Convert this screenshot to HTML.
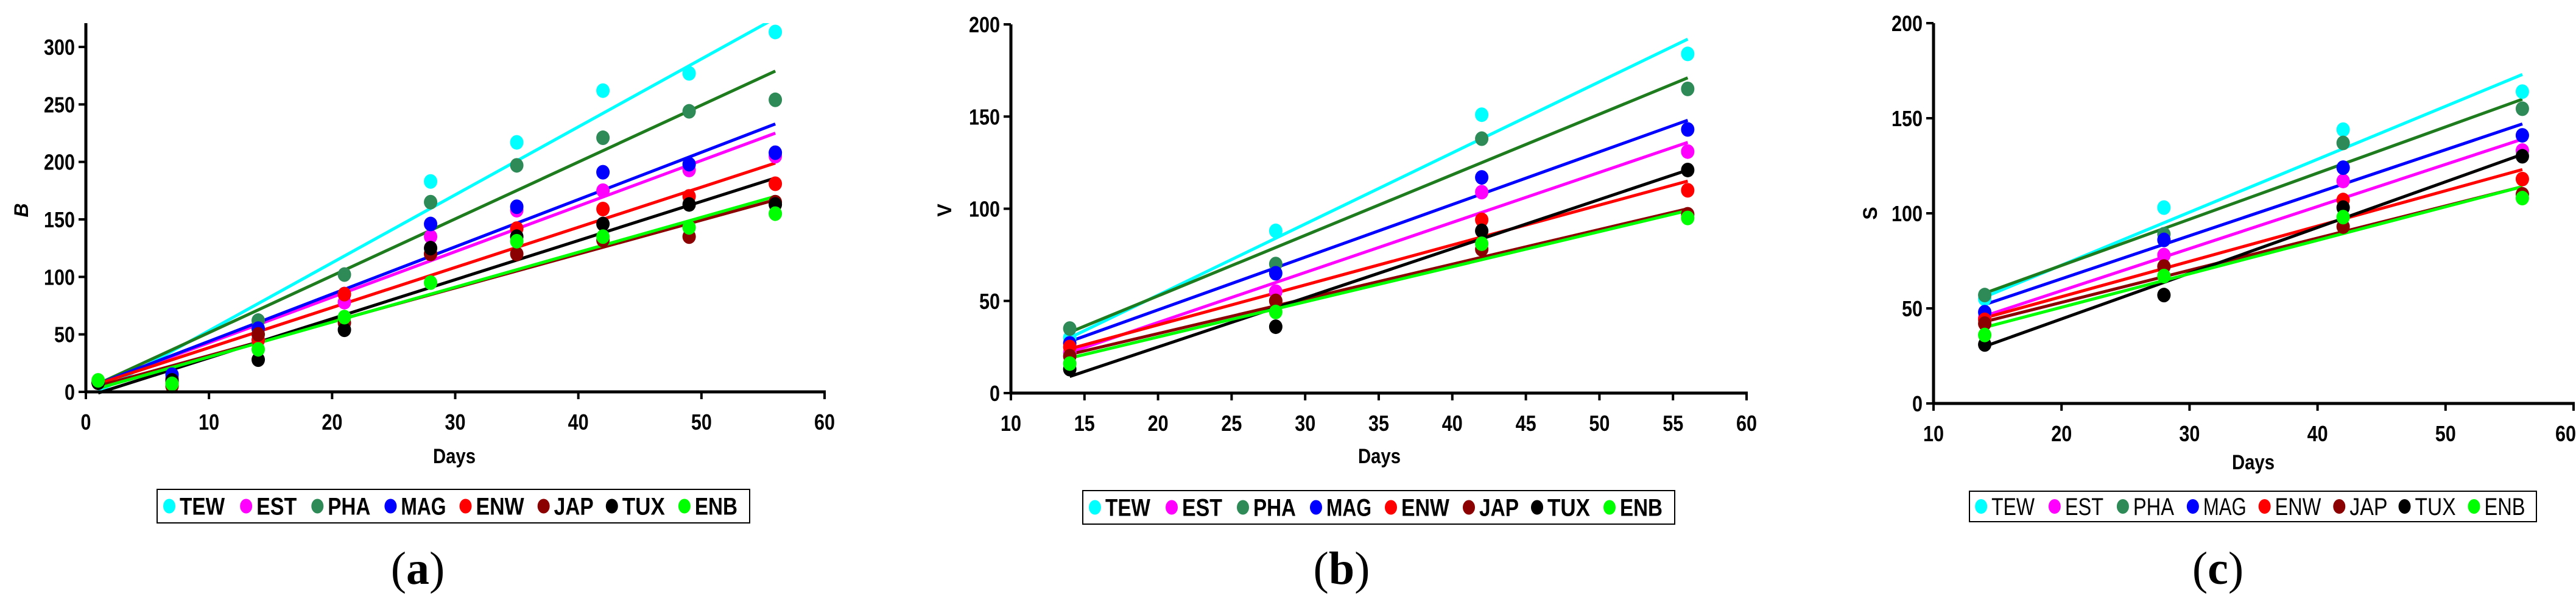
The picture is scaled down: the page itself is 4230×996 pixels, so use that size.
<!DOCTYPE html>
<html><head><meta charset="utf-8"><style>
html,body{margin:0;padding:0;background:#fff;}
svg{display:block;}
</style></head><body>
<svg id="fig" width="4230" height="996" viewBox="0 0 4230 996" xmlns="http://www.w3.org/2000/svg" font-family="Liberation Sans, sans-serif"></svg>
<script>
const seriesNames = ["TEW","EST","PHA","MAG","ENW","JAP","TUX","ENB"];
const dotColors = ["#00ffff","#ff00ff","#2e8b57","#0000ff","#ff0000","#8b0000","#000000","#00ff00"];
const lineColors = ["#00ffff","#ff00ff","#1e7b1e","#0000ff","#ff0000","#8b0000","#000000","#00ff00"];

// Panel (a) B
const daysA = [1,7,14,21,28,35,42,49,56];
const valsA_TEW = [8,12,55,85,183,217,262,277,313];
const valsA_EST = [8,12,45,78,135,158,175,193,205];
const valsA_PHA = [8,10,62,102,165,197,221,244,254];
const valsA_MAG = [8,15,55,85,146,161,191,198,208];
const valsA_ENW = [8,8,45,85,120,142,159,170,181];
const valsA_JAP = [8,5,50,60,120,120,132,135,165];
const valsA_TUX = [8,10,28,54,125,135,146,163,163];
const valsA_ENB = [10,7,37,65,95,131,135,143,155];
const fitA_start = [0,7,7,7,7,5,-1,3];
const fitA_end = [325,225,279,233,199,167,186,170];
const yTicksA = [0,50,100,150,200,250,300];
const xTicksA = [0,10,20,30,40,50,60];

// Panel (b) V
const daysB = [14,28,42,56];
const valsB_TEW = [30,88,151,184];
const valsB_EST = [22,55,109,131];
const valsB_PHA = [35,70,138,165];
const valsB_MAG = [27,65,117,143];
const valsB_ENW = [25,50,94,110];
const valsB_JAP = [20,50,78,97];
const valsB_TUX = [13,36,88,121];
const valsB_ENB = [16,44,81,95];
const fitB_start = [30,22,33,28,24,21,9,19];
const fitB_end = [192,136,171,148,115,100,121,99];
const yTicksB = [0,50,100,150,200];
const xTicksB = [10,15,20,25,30,35,40,45,50,55,60];

// Panel (c) S
const daysC = [14,28,42,56];
const valsC_TEW = [55,103,144,164];
const valsC_EST = [45,78,117,133];
const valsC_PHA = [57,89,137,155];
const valsC_MAG = [48,86,124,141];
const valsC_ENW = [44,72,107,118];
const valsC_JAP = [42,72,93,110];
const valsC_TUX = [31,57,103,130];
const valsC_ENB = [36,67,98,108];
const fitC_start = [56,46,58,52,45,43,30,40];
const fitC_end = [173,139,160,147,123,114,131,114];
const yTicksC = [0,50,100,150,200];
const xTicksC = [10,20,30,40,50,60];

const legendWidths = [74,66,70,74,79,65,70,70];

const NS="http://www.w3.org/2000/svg";
const svg=document.getElementById('fig');
function mk(tag,attrs,parent){const e=document.createElementNS(NS,tag);for(const k in attrs)e.setAttribute(k,attrs[k]);(parent||svg).appendChild(e);return e;}

function panel(p){
  const g=mk('g',{});
  
  
  const sx=v=>p.x0+(v-p.xmin)/(p.xmax-p.xmin)*(p.x1-p.x0);
  const sy=v=>p.y0-(v-p.ymin)/(p.ymax-p.ymin)*(p.y0-p.y1);
  const clip=mk('clipPath',{id:'clip-'+p.id},g);
  mk('rect',{x:p.x0,y:p.yTop,width:p.x1-p.x0+40,height:p.y0-p.yTop+30},clip);
  const plot=mk('g',{'clip-path':'url(#clip-'+p.id+')'},g);
  
  
  for(let i=0;i<8;i++){
    const d0=p.days[0], d1=p.days[p.days.length-1];
    const l=mk('line',{x1:sx(d0),y1:sy(p.fs[i]),x2:sx(d1),y2:sy(p.fe[i]),stroke:lineColors[i],'stroke-width':5},plot);
    
    
  }
  for(let i=0;i<8;i++){
    const vals=p.vals[i];
    for(let j=0;j<p.days.length;j++){
      const c=mk('ellipse',{cx:sx(p.days[j]),cy:sy(vals[j]),rx:11,ry:12,fill:dotColors[i]},plot);
      
      
    }
  }
  const ya=mk('line',{x1:p.x0,y1:p.yTop,x2:p.x0,y2:p.y0+2,stroke:'#000','stroke-width':5},g);
  
  
  const xa=mk('line',{x1:p.x0-2,y1:p.y0,x2:p.x1+2,y2:p.y0,stroke:'#000','stroke-width':5},g);
  
  
  p.yt.forEach(v=>{
    mk('line',{x1:p.x0-12,y1:sy(v),x2:p.x0,y2:sy(v),stroke:'#000','stroke-width':4},g);
    const s=String(v);
    const t=mk('text',{x:p.x0-18,y:sy(v)+13,'text-anchor':'end','font-size':36,'font-weight':'bold',textLength:s.length*17,lengthAdjust:'spacingAndGlyphs'},g);
    t.textContent=s;
    
    
  });
  p.xt.forEach((v,k)=>{
    mk('line',{x1:sx(v),y1:p.y0,x2:sx(v),y2:p.y0+12,stroke:'#000','stroke-width':4},g);
    const s=String(v);
    let anchor='middle', xx=sx(v);
    if(p.lastEnd && k===p.xt.length-1){anchor='end';xx=4230;}
    const t=mk('text',{x:xx,y:p.y0+62,'text-anchor':anchor,'font-size':36,'font-weight':'bold',textLength:s.length*17,lengthAdjust:'spacingAndGlyphs'},g);
    t.textContent=s;
    
    
  });
  const xt=mk('text',{x:p.daysX,y:p.daysY,'text-anchor':'middle','font-size':34,'font-weight':'bold',textLength:70,lengthAdjust:'spacingAndGlyphs'},g);
  xt.textContent='Days';
  
  
  const yt=mk('text',{x:0,y:0,'text-anchor':'middle','font-size':32,'font-weight':'bold','font-style':p.yItalic?'italic':'normal',transform:'translate('+p.ylx+','+p.yly+') rotate(-90)'},g);
  yt.textContent=p.ylabel;
  
  
  const lg=mk('g',{},g);
  
  
  mk('rect',{x:p.lx,y:p.ly,width:p.lw,height:p.lh,fill:'#fff',stroke:'#000','stroke-width':2},lg);
  const offs=[20,146,263,383,506,634,746,865];
  const sc=p.lw/972;
  for(let i=0;i<8;i++){
    const ex=p.lx+offs[i]*sc;
    const e=mk('ellipse',{cx:ex,cy:p.ly+p.lh/2,rx:10,ry:12,fill:dotColors[i]},lg);
    
    
    const t=mk('text',{x:ex+17,y:p.ly+p.lh/2+14,'font-size':40,'font-weight':p.legBold?'bold':'normal',textLength:legendWidths[i]*sc,lengthAdjust:'spacingAndGlyphs'},lg);
    t.textContent=seriesNames[i];
    
    
  }
  const cap=mk('text',{x:p.capX,y:958,'text-anchor':'middle','font-size':76,'font-family':'Liberation Serif, serif'},g);
  cap.innerHTML='(<tspan font-weight="bold">'+p.cap+'</tspan>)';
  
  
}

panel({id:'panel-a',days:daysA,vals:[valsA_TEW,valsA_EST,valsA_PHA,valsA_MAG,valsA_ENW,valsA_JAP,valsA_TUX,valsA_ENB],fs:fitA_start,fe:fitA_end,
  x0:141,x1:1354,xmin:0,xmax:60,y0:643,y1:77,ymin:0,ymax:300,yTop:38,yt:yTicksA,xt:xTicksA,
  daysX:746,daysY:760,ylabel:'B',yItalic:true,ylx:46,yly:345,lx:258,ly:803,lw:973,lh:55,legBold:true,capX:686,cap:'a'});
panel({id:'panel-b',days:daysB,vals:[valsB_TEW,valsB_EST,valsB_PHA,valsB_MAG,valsB_ENW,valsB_JAP,valsB_TUX,valsB_ENB],fs:fitB_start,fe:fitB_end,
  x0:1660,x1:2868,xmin:10,xmax:60,y0:645,y1:40,ymin:0,ymax:200,yTop:40,yt:yTicksB,xt:xTicksB,
  daysX:2265,daysY:760,ylabel:'V',yItalic:false,ylx:1562,yly:345,lx:1778,ly:805,lw:972,lh:55,legBold:true,capX:2203,cap:'b'});
panel({id:'panel-c',days:daysC,vals:[valsC_TEW,valsC_EST,valsC_PHA,valsC_MAG,valsC_ENW,valsC_JAP,valsC_TUX,valsC_ENB],fs:fitC_start,fe:fitC_end,
  x0:3175,x1:4226,xmin:10,xmax:60,y0:662,y1:38,ymin:0,ymax:200,yTop:38,yt:yTicksC,xt:xTicksC,lastEnd:true,
  daysX:3700,daysY:770,ylabel:'S',yItalic:false,ylx:3082,yly:350,lx:3234,ly:806,lw:931,lh:50,legBold:false,capX:3642,cap:'c'});
</script>
</body></html>
